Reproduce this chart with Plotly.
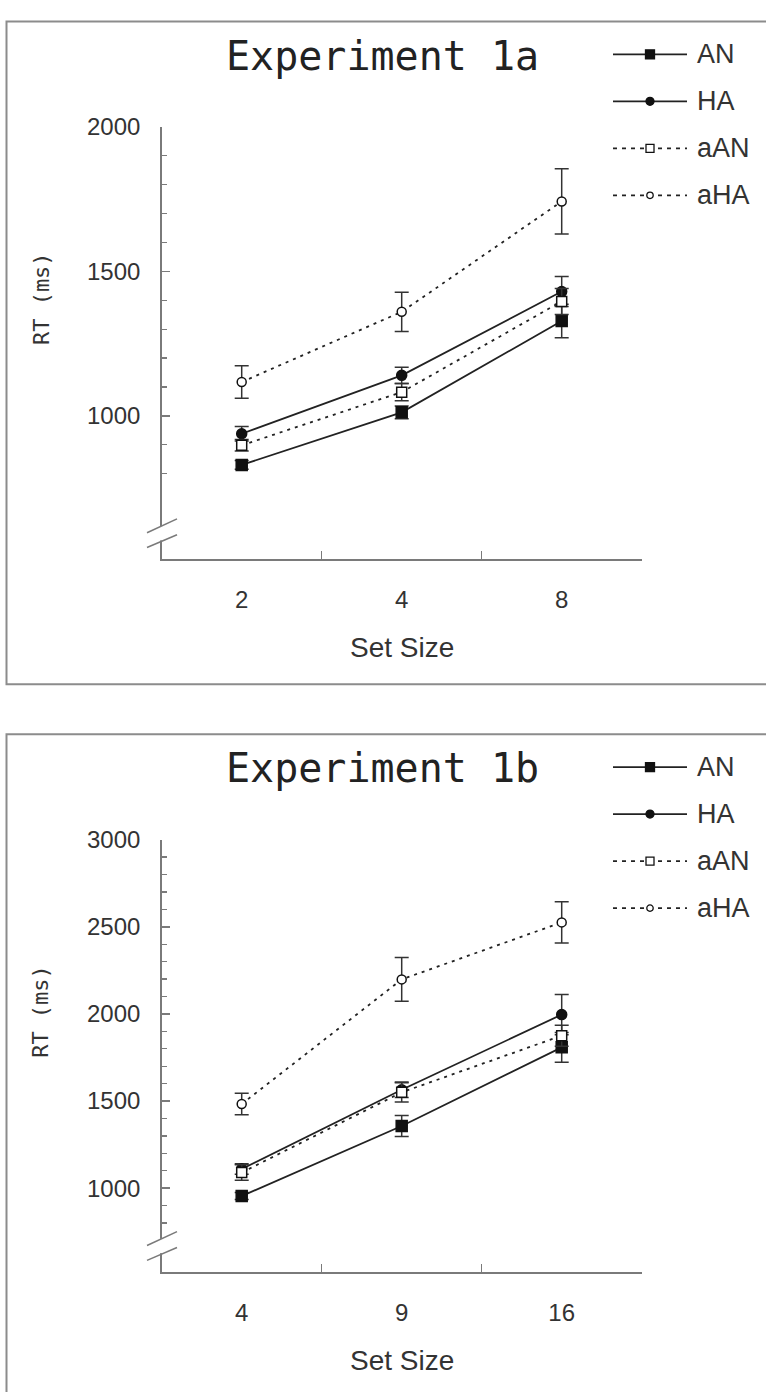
import plotly.graph_objects as go

W, H = 766, 1392

# ---------------- data ----------------
series_names = ["AN", "HA", "aAN", "aHA"]

exp1a_set_sizes = ["2", "4", "8"]
exp1a_AN = [830, 1012, 1328]
exp1a_AN_err = [15, 22, 58]
exp1a_HA = [938, 1140, 1430]
exp1a_HA_err = [25, 28, 52]
exp1a_aAN = [898, 1082, 1396]
exp1a_aAN_err = [20, 30, 45]
exp1a_aHA = [1117, 1360, 1742]
exp1a_aHA_err = [56, 68, 113]

exp1b_set_sizes = ["4", "9", "16"]
exp1b_AN = [955, 1357, 1808]
exp1b_AN_err = [20, 60, 85]
exp1b_HA = [1110, 1565, 1996]
exp1b_HA_err = [30, 45, 115]
exp1b_aAN = [1090, 1550, 1875]
exp1b_aAN_err = [45, 55, 60]
exp1b_aHA = [1483, 2198, 2525]
exp1b_aHA_err = [62, 125, 118]

y_ticks_1a = [1000, 1500, 2000]
y_ticks_1b = [1000, 1500, 2000, 2500, 3000]
minor_1a = list(range(800, 2001, 100))
minor_1b = list(range(800, 3001, 100))

panel_titles = ["Experiment 1a", "Experiment 1b"]
x_title = "Set Size"
y_title = "RT (ms)"

# ---------------- style ----------------
AX = "#7a7a7a"
INK = "#222222"
SANS = "Liberation Sans, Arial, sans-serif"
MONO = "DejaVu Sans Mono, monospace"

styles = {
    "AN": dict(symbol="square", fill="#111111", dash="solid", size=11),
    "HA": dict(symbol="circle", fill="#111111", dash="solid", size=10),
    "aAN": dict(symbol="square", fill="white", dash="3px,5px", size=10),
    "aHA": dict(symbol="circle", fill="white", dash="3px,5px", size=9),
}


def px(x):
    return x / W


def py(y):
    return 1 - y / H


fig = go.Figure()

panels = [
    dict(cats=exp1a_set_sizes,
         vals={"AN": (exp1a_AN, exp1a_AN_err), "HA": (exp1a_HA, exp1a_HA_err),
               "aAN": (exp1a_aAN, exp1a_aAN_err), "aHA": (exp1a_aHA, exp1a_aHA_err)},
         xa="x", ya="y", yrange=[503, 2000], yticks=y_ticks_1a, minor=minor_1a, off=0),
    dict(cats=exp1b_set_sizes,
         vals={"AN": (exp1b_AN, exp1b_AN_err), "HA": (exp1b_HA, exp1b_HA_err),
               "aAN": (exp1b_aAN, exp1b_aAN_err), "aHA": (exp1b_aHA, exp1b_aHA_err)},
         xa="x2", ya="y2", yrange=[518, 3000], yticks=y_ticks_1b, minor=minor_1b, off=720),
]

for p in panels:
    for name in series_names:
        v, e = p["vals"][name]
        st = styles[name]
        fig.add_trace(go.Scatter(
            x=p["cats"], y=v, mode="lines+markers", name=name, showlegend=False,
            xaxis=p["xa"], yaxis=p["ya"], cliponaxis=False, hoverinfo="skip",
            line=dict(color=INK, width=1.8, dash=st["dash"]),
            marker=dict(symbol=st["symbol"], size=st["size"], color=st["fill"],
                        line=dict(color="#111111", width=1.5)),
            error_y=dict(type="data", array=e, color="#333333", thickness=1.5, width=7),
        ))

shapes = []
annotations = []

x_dom = [px(161.7), px(641.7)]
layout_axes = {}
for i, p in enumerate(panels):
    off = p["off"]
    sfx = "" if i == 0 else "2"
    top = 114 + off
    bot = 551 + off
    layout_axes["xaxis" + sfx] = dict(
        domain=x_dom, anchor=p["ya"], type="category",
        categoryorder="array", categoryarray=p["cats"], range=[-0.5, 2.5],
        tickson="boundaries", ticks="inside", ticklen=8, tickwidth=1.5, tickcolor=AX,
        showline=True, linecolor=AX, linewidth=1.5, showgrid=False, zeroline=False,
        tickfont=dict(family=SANS, size=24, color="#333333"), ticklabelstandoff=18,
        fixedrange=True,
    )
    layout_axes["yaxis" + sfx] = dict(
        domain=[py(bot), py(top)], anchor=p["xa"], range=p["yrange"],
        tickmode="array", tickvals=p["yticks"], ticks="inside", ticklen=8, tickwidth=1.5,
        tickcolor=AX, showline=True, linecolor=AX, linewidth=1.5, showgrid=False,
        zeroline=False, tickfont=dict(family=SANS, size=24, color="#333333"),
        ticklabelstandoff=15, fixedrange=True,
        minor=dict(tickvals=p["minor"], ticks="inside", ticklen=5, tickwidth=1.2,
                   tickcolor=AX, showgrid=False),
    )

    # panel frame
    shapes.append(dict(type="rect", xref="paper", yref="paper",
                       x0=px(6.5), x1=px(820), y0=py(677 + off if i == 0 else 1440),
                       y1=py(7.5 + off), line=dict(color="#8c8c8c", width=2),
                       fillcolor="rgba(0,0,0,0)", layer="below"))

    # axis break
    xd, yd = p["xa"] + " domain", p["ya"] + " domain"
    shapes.append(dict(type="rect", xref=xd, yref=yd, x0=-0.012, x1=0.012,
                       y0=0.044, y1=0.077, fillcolor="white", line=dict(width=0),
                       layer="above"))
    for (y0, y1) in [(0.0618, 0.0938), (0.0275, 0.0572)]:
        shapes.append(dict(type="line", xref=xd, yref=yd, x0=-0.0306, x1=0.0319,
                           y0=y0, y1=y1, line=dict(color=AX, width=1.5), layer="above"))

    # legend
    for k, name in enumerate(series_names):
        st = styles[name]
        ly = 40.7 + 47.5 * k + off
        shapes.append(dict(type="line", xref="paper", yref="paper",
                           x0=px(613), x1=px(687), y0=py(ly), y1=py(ly),
                           line=dict(color=INK, width=1.8,
                                     dash="solid" if st["dash"] == "solid" else "4px,5px")))
        r = {"AN": 4.5, "HA": 4, "aAN": 4, "aHA": 3.2}[name]
        shapes.append(dict(type="rect" if st["symbol"] == "square" else "circle",
                           xref="paper", yref="paper",
                           x0=px(650 - r), x1=px(650 + r), y0=py(ly + r), y1=py(ly - r),
                           fillcolor=st["fill"], line=dict(color="#111111", width=1.3)))
        annotations.append(dict(text=name, xref="paper", yref="paper", x=px(695), y=py(ly),
                                xanchor="left", yanchor="middle", showarrow=False,
                                font=dict(family=SANS, size=27, color="#333333")))

    annotations.append(dict(text=panel_titles[i], xref="paper", yref="paper",
                            x=px(382), y=py(42 + off), xanchor="center", yanchor="middle",
                            showarrow=False, font=dict(family=MONO, size=40, color=INK)))
    annotations.append(dict(text=y_title, xref="paper", yref="paper",
                            x=px(41), y=py(288 + off), xanchor="center", yanchor="middle",
                            textangle=-90, showarrow=False,
                            font=dict(family=MONO, size=22, color="#333333")))
    annotations.append(dict(text=x_title, xref="paper", yref="paper",
                            x=px(402), y=py(640 + off), xanchor="center", yanchor="middle",
                            showarrow=False, font=dict(family=SANS, size=28, color="#333333")))

fig.update_layout(
    width=W, height=H, margin=dict(l=0, r=0, t=0, b=0),
    paper_bgcolor="white", plot_bgcolor="white", showlegend=False, hovermode=False,
    shapes=shapes, annotations=annotations, **layout_axes,
)

fig.write_html("out.html", config={"displayModeBar": False, "staticPlot": True},
               post_script="document.body.style.margin='0px';")
